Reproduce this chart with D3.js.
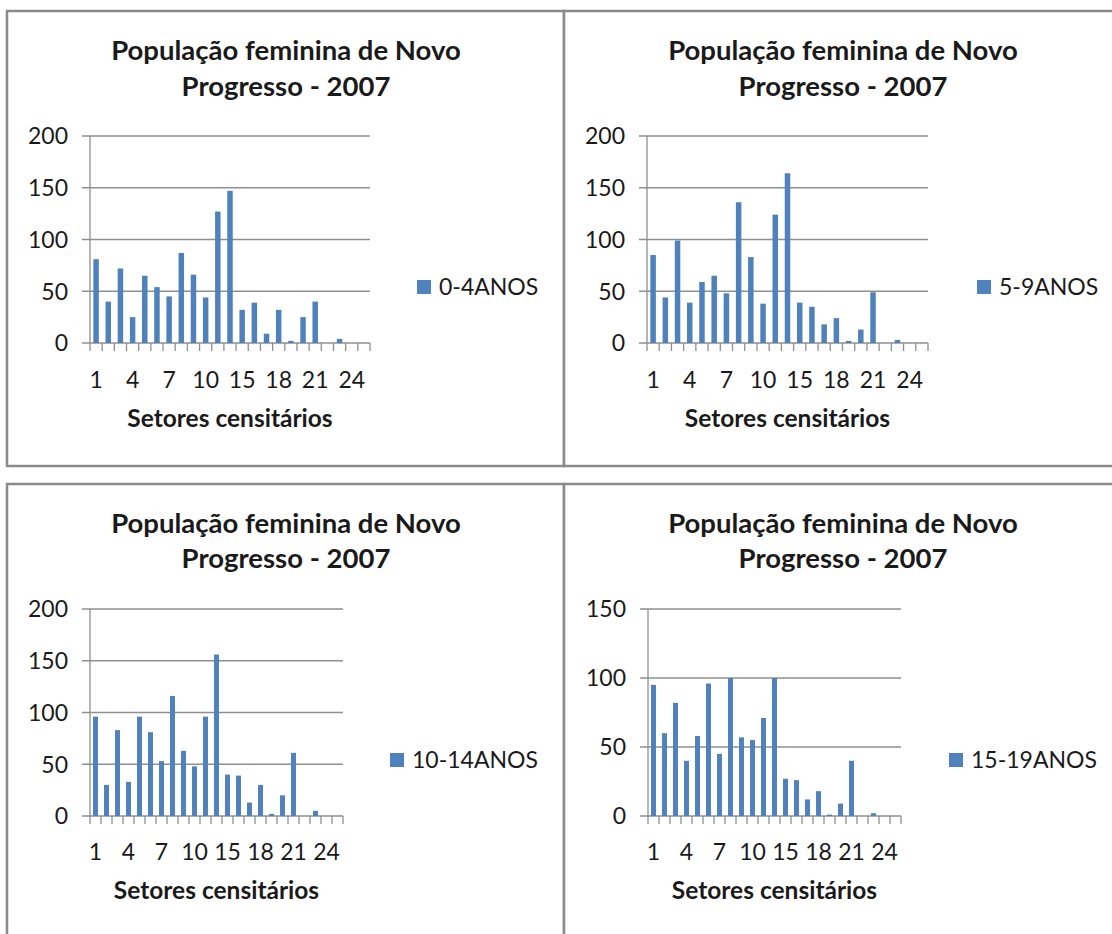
<!DOCTYPE html>
<html>
<head>
<meta charset="utf-8">
<script src="https://cdn.jsdelivr.net/npm/d3@7"></script>
<style>
  html, body { margin: 0; padding: 0; background: #fff; }
  svg { display: block; }
  text { font-family: Lato, "Open Sans", sans-serif; fill: #1a1a1a; }
</style>
</head>
<body>
<svg id="chart" width="1112" height="934"></svg>
<script>
// ---- data ----
const categories = ["1","2","3","4","5","6","7","8","9","10","11","13","15","16","17","18","19","20","21","22","23","24","25"];
const ages0to4   = [81, 40, 72, 25, 65, 54, 45, 87, 66, 44, 127, 147, 32, 39, 9, 32, 2, 25, 40, 0, 4, 0, 0];
const ages5to9   = [85, 44, 99, 39, 59, 65, 48, 136, 83, 38, 124, 164, 39, 35, 18, 24, 2, 13, 49, 0, 3, 0, 0];
const ages10to14 = [96, 30, 83, 33, 96, 81, 53, 116, 63, 48, 96, 156, 40, 39, 13, 30, 2, 20, 61, 0, 5, 0, 0];
const ages15to19 = [95, 60, 82, 40, 58, 96, 45, 100, 57, 55, 71, 100, 27, 26, 12, 18, 1, 9, 40, 0, 2, 0, 0];
const seriesNames = ["0-4ANOS", "5-9ANOS", "10-14ANOS", "15-19ANOS"];
const yTicksA = [0, 50, 100, 150, 200];
const yTicksB = [0, 50, 100, 150];
const titleLines = ["População feminina de Novo", "Progresso - 2007"];
const xAxisTitle = "Setores censitários";

// ---- layout ----
const barColor = "#4F81BD";
const gridColor = "#8f8f8f";
const frameColor = "#8a8a8a";

const panels = [
  { values: ages0to4,   name: seriesNames[0], ticks: yTicksA,
    frame: [7, 11, 557, 455], plot: [90, 370, 136, 343], titleX: 286, titleY: [50, 86],
    legendX: 417, legendY: 287, xLabY: 380, xTitleY: 418 },
  { values: ages5to9,   name: seriesNames[1], ticks: yTicksA,
    frame: [564, 11, 600, 455], plot: [647, 928, 136, 343], titleX: 843, titleY: [50, 86],
    legendX: 977, legendY: 287, xLabY: 380, xTitleY: 418 },
  { values: ages10to14, name: seriesNames[2], ticks: yTicksA,
    frame: [7, 484, 557, 500], plot: [90, 343, 609, 816], titleX: 286, titleY: [523, 558],
    legendX: 390, legendY: 760, xLabY: 852, xTitleY: 890 },
  { values: ages15to19, name: seriesNames[3], ticks: yTicksB,
    frame: [564, 484, 600, 500], plot: [648, 901, 609, 816], titleX: 843, titleY: [523, 558],
    legendX: 949, legendY: 760, xLabY: 852, xTitleY: 890 }
];

const svg = d3.select("#chart");

panels.forEach(p => {
  const g = svg.append("g");
  const [fx, fy, fw, fh] = p.frame;
  g.append("rect").attr("x", fx).attr("y", fy).attr("width", fw).attr("height", fh)
    .attr("fill", "#fff").attr("stroke", frameColor).attr("stroke-width", 2.5);
});

panels.forEach(p => {
  const g = svg.append("g");
  const [x0, x1, yTop, y0] = p.plot;
  const x = d3.scaleBand().domain(categories).range([x0, x1]).paddingInner(0.55).paddingOuter(0.275);
  const xb = d3.scaleBand().domain(categories).range([x0, x1]);
  const yMax = d3.max(p.ticks);
  const y = d3.scaleLinear().domain([0, yMax]).range([y0, yTop]);

  // gridlines (with outer y ticks)
  g.append("g").selectAll("line").data(p.ticks).join("line")
    .attr("x1", x0 - 8).attr("x2", x1)
    .attr("y1", d => y(d)).attr("y2", d => y(d))
    .attr("stroke", gridColor).attr("stroke-width", 1.3);

  // y axis line
  g.append("line").attr("x1", x0).attr("x2", x0).attr("y1", yTop).attr("y2", y0 + 8)
    .attr("stroke", gridColor).attr("stroke-width", 1.3);

  // x category boundary ticks
  const bounds = categories.map(c => xb(c)).concat([x1]);
  g.append("g").selectAll("line").data(bounds.slice(1)).join("line")
    .attr("x1", d => d).attr("x2", d => d).attr("y1", y0).attr("y2", y0 + 8)
    .attr("stroke", gridColor).attr("stroke-width", 1.3);

  // y tick labels
  g.append("g").selectAll("text").data(p.ticks).join("text")
    .attr("x", x0 - 22).attr("y", d => y(d)).attr("dy", "0.36em")
    .attr("text-anchor", "end").attr("font-size", 23).text(d => d);

  // bars
  g.append("g").selectAll("rect").data(p.values.map((v, i) => ({ c: categories[i], v })))
    .join("rect")
    .attr("x", d => x(d.c)).attr("width", x.bandwidth())
    .attr("y", d => y(d.v)).attr("height", d => y0 - y(d.v))
    .attr("fill", barColor);

  // x tick labels (every third category)
  g.append("g").selectAll("text").data(categories.filter((c, i) => i % 3 === 0)).join("text")
    .attr("x", d => xb(d) + xb.bandwidth() / 2).attr("y", p.xLabY).attr("dy", "0.36em")
    .attr("text-anchor", "middle").attr("font-size", 23).text(d => d);

  // axis title
  g.append("text").attr("x", (x0 + x1) / 2).attr("y", p.xTitleY).attr("dy", "0.36em")
    .attr("text-anchor", "middle").attr("font-size", 24.5).attr("font-weight", "bold").text(xAxisTitle);

  // chart title
  titleLines.forEach((t, i) => {
    g.append("text").attr("x", p.titleX).attr("y", p.titleY[i]).attr("dy", "0.36em")
      .attr("text-anchor", "middle").attr("font-size", 27.5).attr("font-weight", "bold").text(t);
  });

  // legend
  g.append("rect").attr("x", p.legendX).attr("y", p.legendY - 7).attr("width", 14).attr("height", 14)
    .attr("fill", barColor);
  g.append("text").attr("x", p.legendX + 22).attr("y", p.legendY).attr("dy", "0.36em")
    .attr("font-size", 23).text(p.name);
});
</script>
</body>
</html>
